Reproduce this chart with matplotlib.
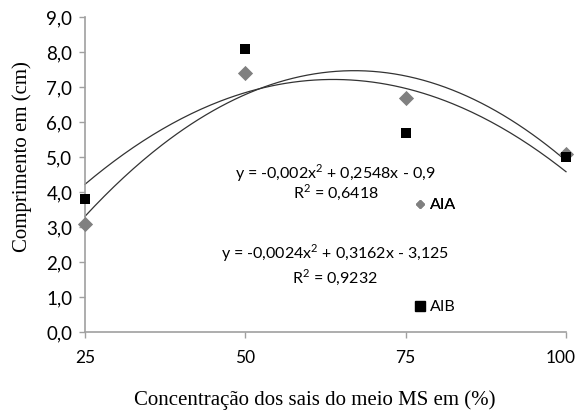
import numpy as np
import matplotlib.pyplot as plt
import matplotlib.transforms as mtransforms
from matplotlib.lines import Line2D

# concentracao dos sais (%)
conc = [25, 50, 75, 100]
aia = [3.1, 7.4, 6.7, 5.1]
aib = [3.8, 8.1, 5.7, 5.0]

yticks = [0, 1, 2, 3, 4, 5, 6, 7, 8, 9]
eq_aib = "y = -0,002x$^2$ + 0,2548x - 0,9"
r2_aib = "R$^2$ = 0,6418"
eq_aia = "y = -0,0024x$^2$ + 0,3162x - 3,125"
r2_aia = "R$^2$ = 0,9232"

sans = ['Lato', 'DejaVu Sans']
serif = ['Liberation Serif', 'DejaVu Serif']
plt.rcParams['mathtext.fontset'] = 'custom'
plt.rcParams['mathtext.rm'] = 'Lato'

fig = plt.figure(figsize=(5.8, 4.17), dpi=100)
ax = fig.add_axes([85/580, 1-332/417, (566-85)/580, (332-17)/417])

# linhas de tendencia polinomiais (ordem 2), como no excel
xs = np.linspace(25, 100, 200)
for ydata in (aib, aia):
    c = np.polyfit(conc, ydata, 2)
    ax.plot(xs, np.polyval(c, xs), color='#333333', lw=0.9, zorder=2, clip_on=False)

ax.scatter(conc, aia, marker='D', s=60, color='#808080', zorder=3, linewidths=0, clip_on=False)
ax.scatter(conc, aib, marker='s', s=55, color='black', zorder=4, linewidths=0, clip_on=False)

ax.set_xlim(25, 100)
ax.set_ylim(0, 9)
ax.set_xticks(conc)
ax.set_xticklabels([str(v) for v in conc], family=sans, fontsize=12.5)
ax.set_yticks(yticks)
ax.set_yticklabels([f"{v:.1f}".replace('.', ',') for v in yticks], family=sans, fontsize=13.5)
ax.tick_params(direction='out', length=4, width=1, color='#a0a0a0', pad=5)
ax.tick_params(axis='x', pad=9)
for s in ['top', 'right']:
    ax.spines[s].set_visible(False)
for s in ['left', 'bottom']:
    ax.spines[s].set_color('#a0a0a0')
    ax.spines[s].set_linewidth(1.2)
ax.spines['left'].set_bounds(0, 9)
# o "100" fica encostado na borda
lab = ax.get_xticklabels()[-1]
lab.set_transform(lab.get_transform() + mtransforms.ScaledTranslation(-5/100, 0, fig.dpi_scale_trans))

fig.text(22/580, 1-157/417, "Comprimento em (cm)", rotation=90, ha='center', va='center',
         family=serif, fontsize=15)
fig.text(315/580, 1-400/417, "Concentração dos sais do meio MS em (%)", ha='center', va='center',
         family=serif, fontsize=15)

fig.text(335/580, 1-173/417, eq_aib, ha='center', va='center', family=sans, fontsize=11.5)
fig.text(336/580, 1-192/417, r2_aib, ha='center', va='center', family=sans, fontsize=11.5)
fig.text(335/580, 1-253/417, eq_aia, ha='center', va='center', family=sans, fontsize=11.5)
fig.text(335/580, 1-277/417, r2_aia, ha='center', va='center', family=sans, fontsize=11.5)

h1 = Line2D([], [], marker='D', ls='none', color='#808080', markersize=4.5)
h2 = Line2D([], [], marker='s', ls='none', color='black', markersize=7)
leg1 = fig.legend([h1], ['AIA'], loc='center left', bbox_to_anchor=(414/580, 1-205/417),
                  frameon=False, prop={'family': sans, 'size': 11.5}, handlelength=0.7,
                  handletextpad=0.3, borderpad=0, borderaxespad=0)
fig.add_artist(leg1)
fig.legend([h2], ['AIB'], loc='center left', bbox_to_anchor=(414/580, 1-307/417),
           frameon=False, prop={'family': sans, 'size': 11.5}, handlelength=0.7,
           handletextpad=0.3, borderpad=0, borderaxespad=0)

fig.savefig('out.png', dpi=100)
